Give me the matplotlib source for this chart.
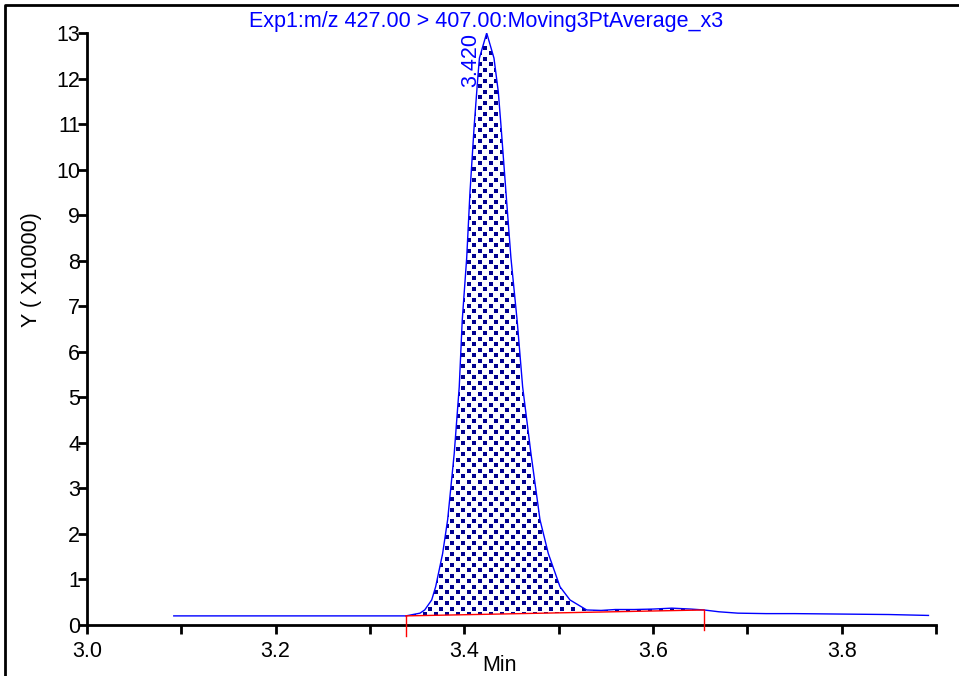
import numpy as np
import matplotlib
matplotlib.use("Agg")
import matplotlib.pyplot as plt
from matplotlib.patches import Polygon
from matplotlib.lines import Line2D

plt.rcParams['font.family'] = ['Liberation Sans', 'DejaVu Sans']

# ---- data ----
title = "Exp1:m/z 427.00 > 407.00:Moving3PtAverage_x3"
ylabel = "Y ( X10000)"
xlabel = "Min"
peak_label = "3.420"
peak_rt = 3.4237
peak_height = 13.0

time = [3.092, 3.15, 3.20, 3.25, 3.30, 3.338, 3.353, 3.358, 3.3654, 3.3696,
        3.377, 3.3823, 3.3893, 3.3946, 3.3978, 3.4025, 3.406, 3.4105, 3.4145,
        3.416, 3.4237, 3.4314, 3.436, 3.4388, 3.4441, 3.4494, 3.4561, 3.4618,
        3.4706, 3.4802, 3.489, 3.5014, 3.512, 3.5297, 3.545, 3.56, 3.58, 3.60,
        3.62, 3.64, 3.654, 3.67, 3.69, 3.72, 3.75, 3.80, 3.85, 3.892]
intensity = [0.20, 0.20, 0.20, 0.20, 0.20, 0.20, 0.26, 0.33, 0.55, 0.84,
             1.57, 2.31, 3.77, 5.23, 6.70, 8.06, 9.51, 10.98, 12.08,
             12.45, 13.0, 12.45, 11.71, 10.98, 9.51, 8.06, 6.66, 5.23,
             3.77, 2.31, 1.57, 0.84, 0.55, 0.33, 0.32, 0.34, 0.34, 0.35,
             0.37, 0.35, 0.33, 0.29, 0.26, 0.25, 0.25, 0.24, 0.23, 0.21]

baseline_t = [3.338, 3.654]
baseline_v = [0.20, 0.33]

xticks_major = [3.0, 3.2, 3.4, 3.6, 3.8]
xticks_minor = [3.1, 3.3, 3.5, 3.7, 3.9]
yticks = list(range(0, 14))

# ---- figure ----
W, H = 959, 676
fig = plt.figure(figsize=(W / 100, H / 100), dpi=100)
ax = fig.add_axes([87 / W, 51 / H, (936 - 87) / W, (625 - 33) / H])
ax.set_xlim(3.0, 3.9)
ax.set_ylim(0, 13)

fs = 15.5
blue = '#0000ff'

# peak fill polygon between curve and baseline
t = np.array(time)
v = np.array(intensity)
mask = (t > baseline_t[0]) & (t < baseline_t[1])
verts = [(baseline_t[0], baseline_v[0])] + list(zip(t[mask], v[mask])) + [(baseline_t[1], baseline_v[1])]
poly = Polygon(verts, closed=True, facecolor='white', edgecolor='none', zorder=1)
ax.add_patch(poly)

# dotted texture (staggered lattice, ~11 px pitch)
dx = 0.1 * 11 / 94.34
dy = 13 * 11 / 592
pts_x, pts_y = [], []
j = 0
yy = 0.0
while yy < 13.2:
    off = (j % 2) * dx / 2
    xx = 3.30 + off
    while xx < 3.70:
        pts_x.append(xx)
        pts_y.append(yy)
        xx += dx
    yy += dy / 2
    j += 1
sc = ax.scatter(pts_x, pts_y, marker='s', s=6.0, color='#000090', linewidths=0, zorder=2)
sc.set_antialiased(False)
sc.set_clip_path(poly)

# chromatogram
ax.plot(time, intensity, color=blue, lw=1.0, zorder=3)

# integration baseline and end markers
ax.plot(baseline_t, baseline_v, color='red', lw=1.0, zorder=4)
for bt, bv in zip(baseline_t, baseline_v):
    ax.plot([bt, bt], [bv, bv - 0.44], color='red', lw=1.0, clip_on=False, zorder=4)

# peak label
ax.annotate(peak_label, xy=(peak_rt, peak_height), xytext=(-4, 0),
            textcoords='offset points', rotation=90, ha='right', va='top',
            color=blue, fontsize=fs)

# axes styling
for s in ['top', 'right']:
    ax.spines[s].set_visible(False)
for s in ['left', 'bottom']:
    ax.spines[s].set_linewidth(2.0)
ax.set_xticks(xticks_major)
ax.set_xticklabels([f"{x:.1f}" for x in xticks_major])
ax.set_xticks(xticks_minor, minor=True)
ax.set_yticks(yticks)
ax.set_yticklabels([str(y) for y in yticks])
ax.tick_params(axis='x', which='both', direction='out', length=6.5, width=2.0,
               labelsize=fs, pad=5)
ax.tick_params(axis='y', which='both', direction='out', length=6.5, width=2.0,
               labelsize=fs, pad=-1.5)

# texts
fig.text(486 / W, 1 - 22 / H, title, color=blue, fontsize=fs, ha='center', va='center')
fig.text(500 / W, 5 / H, xlabel, fontsize=fs, ha='center', va='baseline')
fig.text(32 / W, 1 - 270 / H, ylabel, fontsize=fs, rotation=90, ha='center', va='center')

# outer frame (partially out of view)
fig.add_artist(Line2D([5 / W, 5 / W, 1.0], [0.0, 1 - 5 / H, 1 - 5 / H],
                      transform=fig.transFigure, color='black', lw=2.0))

fig.savefig('out.png', dpi=100)
